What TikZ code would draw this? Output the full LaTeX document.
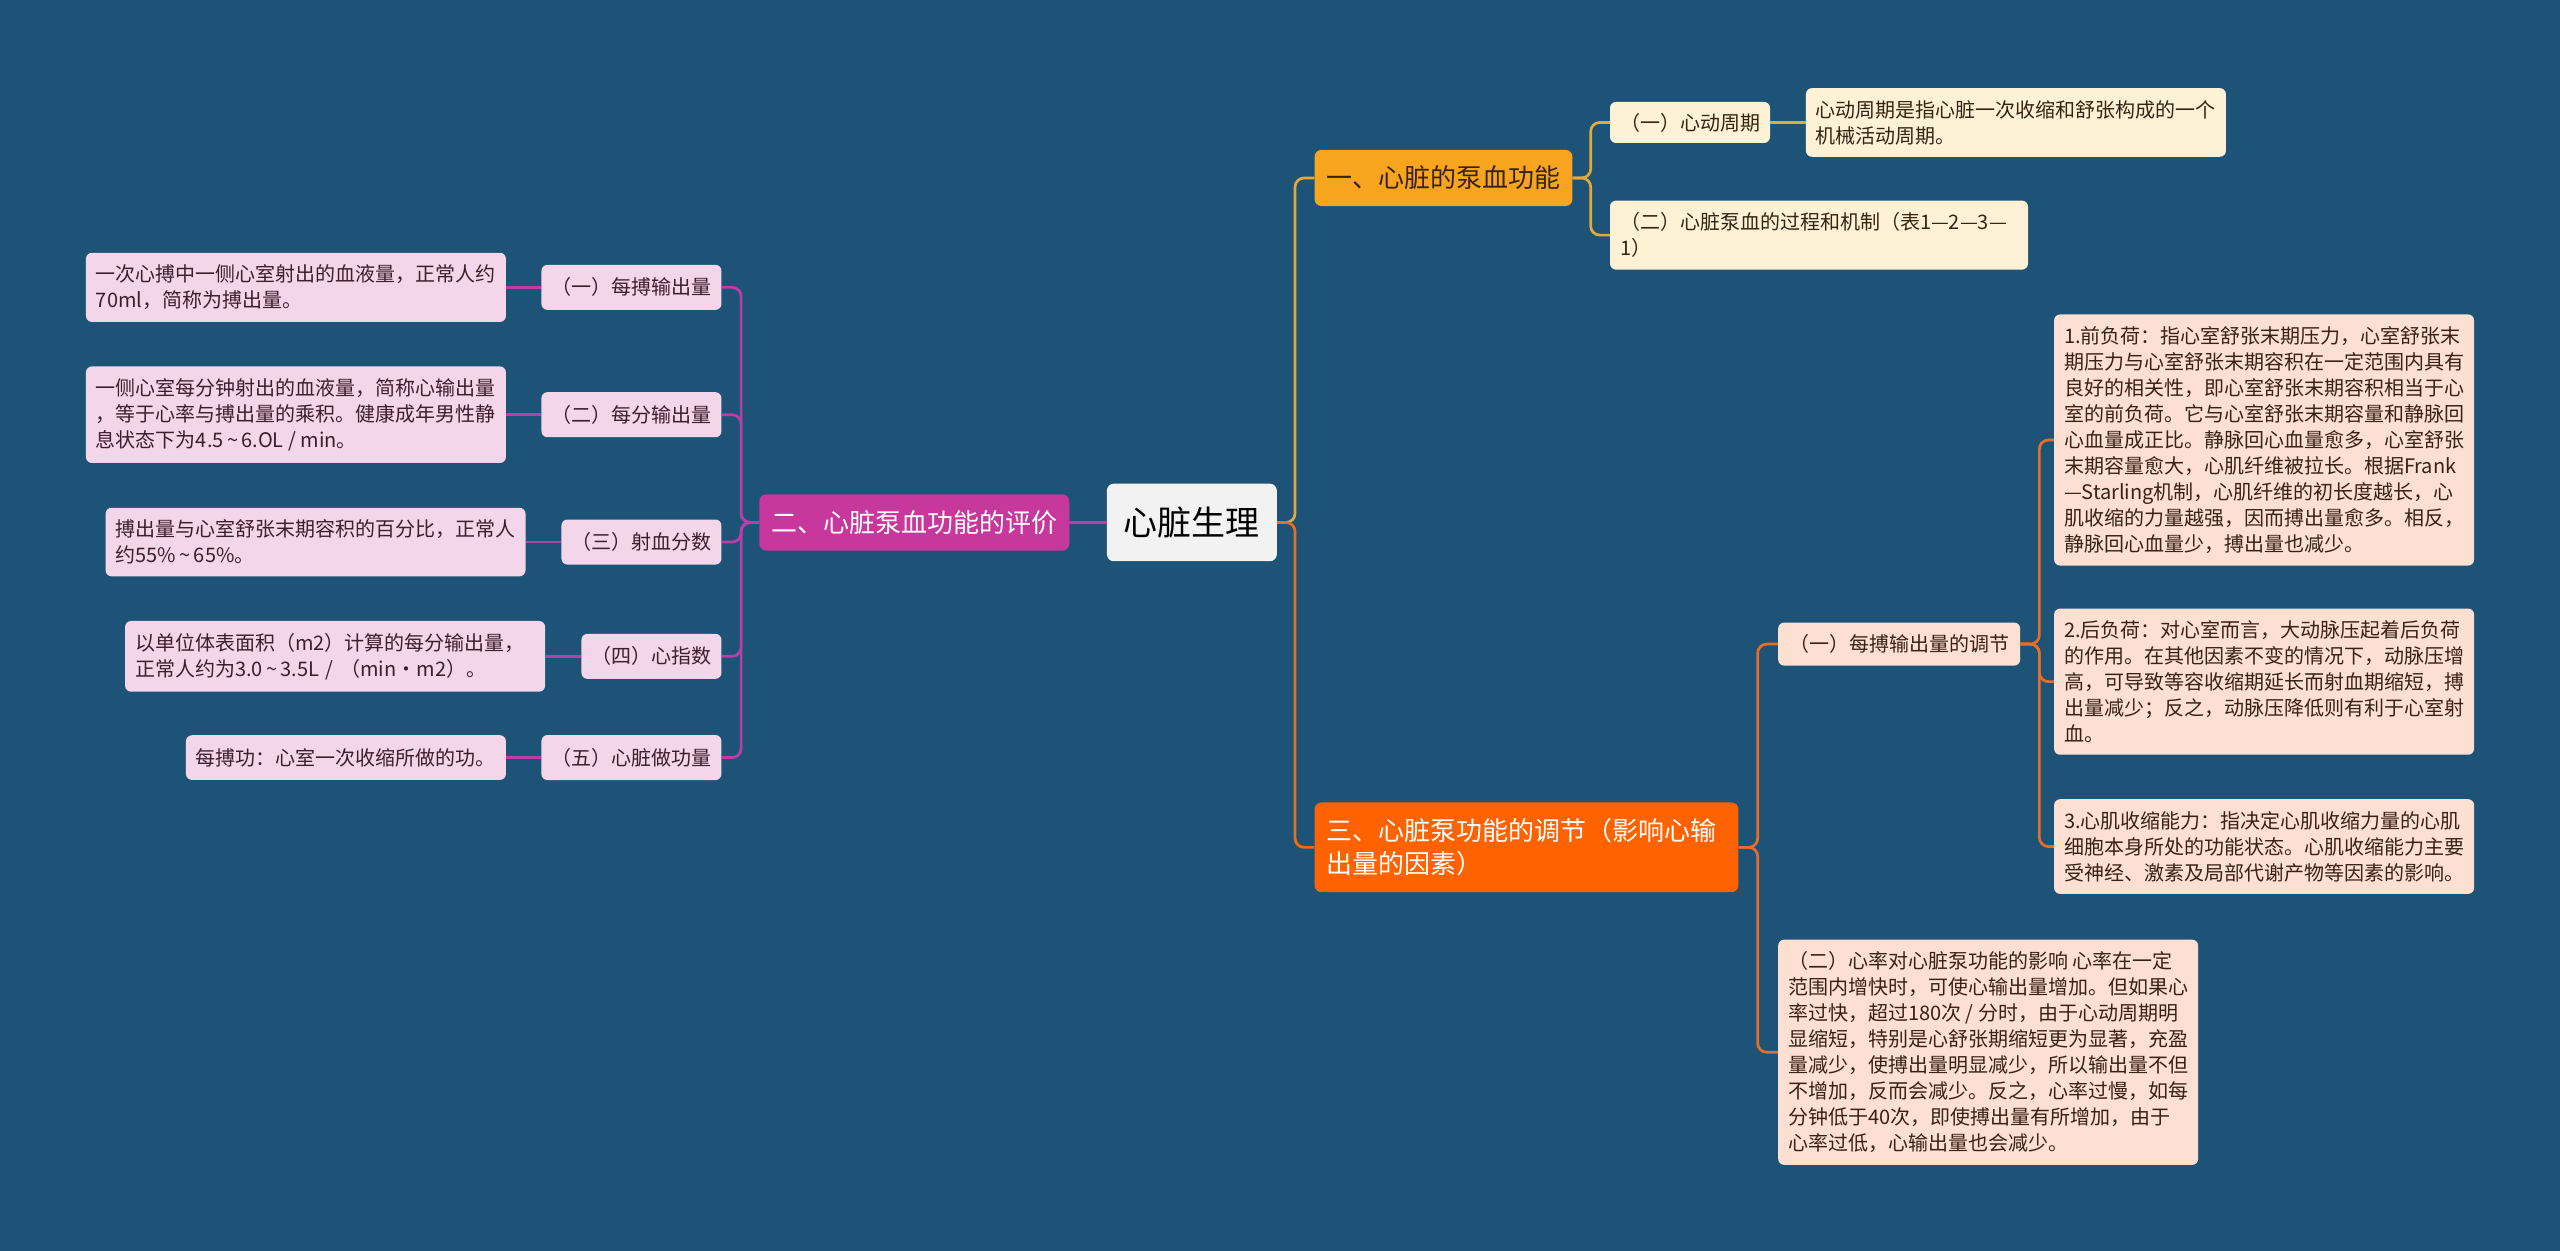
\documentclass[tikz,border=0pt]{standalone}
\usepackage{fontspec}
\setmainfont{Noto Sans CJK SC}
\definecolor{bg}{RGB}{28,83,119}
\definecolor{pinkL1}{RGB}{200,55,155}
\definecolor{pinkLight}{RGB}{244,214,234}
\definecolor{pinkLine}{RGB}{184,62,168}
\definecolor{pinkText}{RGB}{60,30,45}
\definecolor{goldL1}{RGB}{247,164,30}
\definecolor{cream}{RGB}{254,242,214}
\definecolor{goldLine}{RGB}{226,170,60}
\definecolor{orangeL1}{RGB}{255,98,0}
\definecolor{peach}{RGB}{254,224,210}
\definecolor{orangeLine}{RGB}{232,110,40}
\definecolor{centerFill}{RGB}{242,242,242}
\definecolor{darkText}{RGB}{55,35,20}
\tikzset{
  box/.style={rounded corners=6pt, inner xsep=10pt, inner ysep=12pt, align=left,
    font=\fontsize{20}{26}\selectfont},
  pinkbox/.style={box, fill=pinkLight, text=pinkText},
  creambox/.style={box, fill=cream, text=darkText},
  peachbox/.style={box, fill=peach, text=darkText},
  mainbox/.style={rounded corners=7pt, inner xsep=12pt, inner ysep=16pt, align=left,
    font=\fontsize{26}{33}\selectfont},
  conn/.style={line width=2.7pt, rounded corners=9pt},
  pinkconn/.style={conn, draw=pinkLine},
  goldconn/.style={conn, draw=goldLine},
  orangeconn/.style={conn, draw=orangeLine},
}
\begin{document}
\begin{tikzpicture}[x=1.6327pt, y=-1.6327pt]
\fill[bg] (0,0) rectangle (1568,766);
\useasboundingbox (0,0) rectangle (1568,766);

% center
\node[rounded corners=7pt, fill=centerFill, text=black, inner xsep=17pt, inner ysep=23pt,
  font=\fontsize{34}{40}\selectfont] (root) at (730,320) {心脏生理};

% left branch
\node[mainbox, fill=pinkL1, text=white] (l1) at (560,320) {二、心脏泵血功能的评价};

\node[pinkbox, anchor=east, inner ysep=13pt] (a1) at (442,176) {（一）每搏输出量};
\node[pinkbox, anchor=east, inner ysep=13pt] (a2) at (442,254) {（二）每分输出量};
\node[pinkbox, anchor=east, inner ysep=13pt] (a3) at (442,332) {（三）射血分数};
\node[pinkbox, anchor=east, inner ysep=13pt] (a4) at (442,402) {（四）心指数};
\node[pinkbox, anchor=east, inner ysep=13pt] (a5) at (442,464) {（五）心脏做功量};

\node[pinkbox, anchor=east] (b1) at (310,176) {一次心搏中一侧心室射出的血液量，正常人约\\70ml，简称为搏出量。};
\node[pinkbox, anchor=east] (b2) at (310,254) {一侧心室每分钟射出的血液量，简称心输出量\\，等于心率与搏出量的乘积。健康成年男性静\\息状态下为4.5\,\textasciitilde\,6.OL / min。};
\node[pinkbox, anchor=east] (b3) at (322,332) {搏出量与心室舒张末期容积的百分比，正常人\\约55\%\,\textasciitilde\,65\%。};
\node[pinkbox, anchor=east, text width=400pt] (b4) at (334,402) {以单位体表面积（m2）计算的每分输出量，\\正常人约为3.0\,\textasciitilde\,3.5L / （min·m2）。};
\node[pinkbox, anchor=east, inner ysep=13pt] (b5) at (310,464) {每搏功：心室一次收缩所做的功。};

% right top branch
\node[mainbox, fill=goldL1, text=darkText, anchor=west] (r1) at (805,109) {一、心脏的泵血功能};
\node[creambox, anchor=west, inner ysep=11pt] (c1) at (986,75) {（一）心动周期};
\node[creambox, anchor=west, text width=398pt] (c2) at (986,144) {（二）心脏泵血的过程和机制（表1—2—3—\\1）};
\node[creambox, anchor=west] (d1) at (1106,75) {心动周期是指心脏一次收缩和舒张构成的一个\\机械活动周期。};

% right bottom branch
\node[mainbox, fill=orangeL1, text=white, anchor=west, text width=400pt] (r3) at (805,519) {三、心脏泵功能的调节（影响心输\\出量的因素）};
\node[peachbox, anchor=west, inner xsep=11pt] (e1) at (1089,394.5) {（一）每搏输出量的调节};
\node[peachbox, anchor=west] (e2) at (1089,644.5) {（二）心率对心脏泵功能的影响 心率在一定\\范围内增快时，可使心输出量增加。但如果心\\率过快，超过180次 / 分时，由于心动周期明\\显缩短，特别是心舒张期缩短更为显著，充盈\\量减少，使搏出量明显减少，所以输出量不但\\不增加，反而会减少。反之，心率过慢，如每\\分钟低于40次，即使搏出量有所增加，由于\\心率过低，心输出量也会减少。};
\node[peachbox, anchor=west] (f1) at (1258,269.5) {1.前负荷：指心室舒张末期压力，心室舒张末\\期压力与心室舒张末期容积在一定范围内具有\\良好的相关性，即心室舒张末期容积相当于心\\室的前负荷。它与心室舒张末期容量和静脉回\\心血量成正比。静脉回心血量愈多，心室舒张\\末期容量愈大，心肌纤维被拉长。根据Frank\\—Starling机制，心肌纤维的初长度越长，心\\肌收缩的力量越强，因而搏出量愈多。相反，\\静脉回心血量少，搏出量也减少。};
\node[peachbox, anchor=west] (f2) at (1258,417.5) {2.后负荷：对心室而言，大动脉压起着后负荷\\的作用。在其他因素不变的情况下，动脉压增\\高，可导致等容收缩期延长而射血期缩短，搏\\出量减少；反之，动脉压降低则有利于心室射\\血。};
\node[peachbox, anchor=west] (f3) at (1258,518.5) {3.心肌收缩能力：指决定心肌收缩力量的心肌\\细胞本身所处的功能状态。心肌收缩能力主要\\受神经、激素及局部代谢产物等因素的影响。};

% connectors left
\draw[pinkconn] (root.west) -- (l1.east);
\foreach \n in {a1,a2,a3,a4,a5}
  \draw[pinkconn] (l1.west) -- ++(-18pt,0) |- (\n.east);
\draw[pinkconn] (a1.west) -- (b1.east);
\draw[pinkconn] (a2.west) -- (b2.east);
\draw[pinkconn] (a3.west) -- (b3.east);
\draw[pinkconn] (a4.west) -- (b4.east);
\draw[pinkconn] (a5.west) -- (b5.east);

% connectors right
\draw[goldconn] (root.east) -- ++(18pt,0) |- (r1.west);
\draw[orangeconn] (root.east) -- ++(18pt,0) |- (r3.west);
\draw[goldconn] (r1.east) -- ++(18pt,0) |- (c1.west);
\draw[goldconn] (r1.east) -- ++(18pt,0) |- (c2.west);
\draw[goldconn] (c1.east) -- (d1.west);
\draw[orangeconn] (r3.east) -- ++(19pt,0) |- (e1.west);
\draw[orangeconn] (r3.east) -- ++(19pt,0) |- (e2.west);
\draw[orangeconn] (e1.east) -- ++(19pt,0) |- (f1.west);
\draw[orangeconn] (e1.east) -- ++(19pt,0) |- (f2.west);
\draw[orangeconn] (e1.east) -- ++(19pt,0) |- (f3.west);
\end{tikzpicture}
\end{document}
